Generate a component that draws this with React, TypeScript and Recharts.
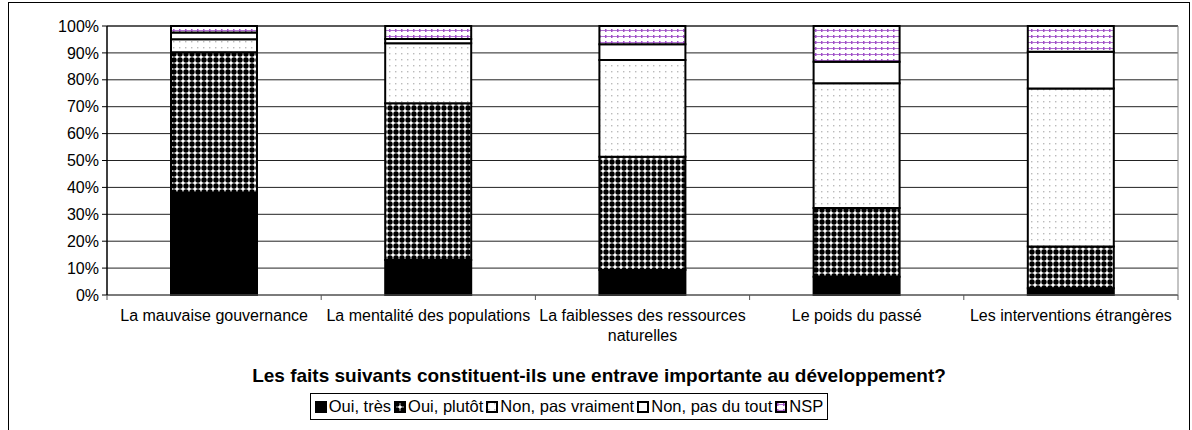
import React from "react";
import { BarChart, Bar, XAxis, YAxis, CartesianGrid, Text } from "recharts";

const categories = [
  "La mauvaise gouvernance",
  "La mentalité des populations",
  "La faiblesses des ressources naturelles",
  "Le poids du passé",
  "Les interventions étrangères",
];
const ouiTres = [38, 13, 9.3, 6.8, 2.5];
const ouiPlutot = [52.2, 58.3, 42.1, 25.5, 15.5];
const nonPasVraiment = [4.9, 22.3, 36, 46.4, 58.8];
const nonPasDuTout = [2.5, 1.6, 5.8, 8, 13.6];
const nsp = [2.4, 4.8, 6.8, 13.3, 9.6];
const yTicks = [0, 10, 20, 30, 40, 50, 60, 70, 80, 90, 100];

const seriesNames = ["Oui, très", "Oui, plutôt", "Non, pas vraiment", "Non, pas du tout", "NSP"];
const fills = ["#000", "url(#dots)", "url(#sparse)", "#fff", "url(#nsp)"];

const data = categories.map((c, i) => ({
  name: c,
  s0: ouiTres[i],
  s1: ouiPlutot[i],
  s2: nonPasVraiment[i],
  s3: nonPasDuTout[i],
  s4: nsp[i],
}));

const FONT = "'Liberation Sans', Arial, sans-serif";
const CHART_W = 1180;
const CHART_H = 345;
const MARGIN = { top: 23, right: 10, left: 38, bottom: 0 };
const Y_W = 60;
const PLOT_W = CHART_W - MARGIN.left - Y_W - MARGIN.right - 1;
const HALF = PLOT_W / categories.length / 2;

const XTick = (props: any) => {
  const { x, y, payload, index } = props;
  const axisY = y - 15;
  return (
    <g>
      <line x1={x - HALF} x2={x - HALF} y1={axisY} y2={axisY + 5} stroke="#555" />
      {index === categories.length - 1 && (
        <line x1={x + HALF} x2={x + HALF} y1={axisY} y2={axisY + 5} stroke="#555" />
      )}
      <Text
        x={x}
        y={y}
        width={214}
        textAnchor="middle"
        verticalAnchor="start"
        fontSize={16}
        fontFamily={FONT}
        fill="#000"
        lineHeight={20}
      >
        {payload.value}
      </Text>
    </g>
  );
};

const LegendIcon = ({ fill }: { fill: string }) => (
  <svg width={12} height={12} style={{ marginRight: 2 }}>
    <rect x={1} y={1} width={10} height={10} fill={fill} stroke="#000" strokeWidth={2} />
  </svg>
);

export default function App() {
  return (
    <div
      style={{
        position: "fixed",
        left: 8,
        top: 2,
        width: 1182,
        height: 440,
        border: "1px solid #000",
        boxSizing: "border-box",
        background: "#fff",
        fontFamily: FONT,
      }}
    >
      <BarChart width={CHART_W} height={CHART_H} data={data} margin={MARGIN} barSize={86}>
        <defs>
          <pattern id="dots" width={6} height={6} patternUnits="userSpaceOnUse">
            <rect width={6} height={6} fill="#fff" />
            <circle cx={3} cy={3} r={2.7} fill="#000" />
          </pattern>
          <pattern id="sparse" width={6} height={6} patternUnits="userSpaceOnUse">
            <rect width={6} height={6} fill="#fff" />
            <rect x={2} y={2} width={1.4} height={1.4} fill="#bbb" />
          </pattern>
          <pattern id="nsp" width={6} height={6} patternUnits="userSpaceOnUse">
            <rect width={6} height={6} fill="#fff" />
            <rect x={0} y={3} width={6} height={1} fill="#b070d0" />
            <rect x={2} y={2} width={1.5} height={3} fill="#a050c8" />
          </pattern>
        </defs>
        <CartesianGrid vertical={false} stroke="#222" />
        <XAxis
          dataKey="name"
          interval={0}
          tickLine={false}
          tickSize={5}
          tickMargin={10}
          axisLine={{ stroke: "#666" }}
          height={CHART_H - MARGIN.top - 269}
          tick={<XTick />}
        />
        <YAxis
          domain={[0, 100]}
          ticks={yTicks}
          interval={0}
          width={Y_W}
          tickFormatter={(v: number) => `${v}%`}
          tick={{ fontSize: 16, fontFamily: FONT, fill: "#000" }}
          tickSize={5}
          tickMargin={3}
          tickLine={{ stroke: "#000" }}
          axisLine={{ stroke: "#000", strokeWidth: 1.5 }}
        />
        <YAxis
          yAxisId="r"
          orientation="right"
          domain={[0, 100]}
          width={1}
          tick={false}
          tickLine={false}
          axisLine={{ stroke: "#888" }}
        />
        {seriesNames.map((n, i) => (
          <Bar
            key={n}
            dataKey={`s${i}`}
            name={n}
            stackId="a"
            fill={fills[i]}
            stroke="#000"
            strokeWidth={2}
            isAnimationActive={false}
          />
        ))}
      </BarChart>
      <div
        style={{
          textAlign: "center",
          fontWeight: "bold",
          fontSize: 19,
          lineHeight: "22px",
          marginTop: 17,
        }}
      >
        Les faits suivants constituent-ils une entrave importante au développement?
      </div>
      <div style={{ textAlign: "center", marginTop: 6, position: "relative", left: -30 }}>
        <div
          style={{
            display: "inline-flex",
            alignItems: "center",
            border: "1px solid #000",
            padding: "2px 4px",
            fontSize: 16.5,
            lineHeight: "21px",
          }}
        >
          {seriesNames.map((n, i) => (
            <span key={n} style={{ display: "inline-flex", alignItems: "center", marginRight: i < 4 ? 3 : 0 }}>
              <LegendIcon fill={fills[i]} />
              {n}
            </span>
          ))}
        </div>
      </div>
    </div>
  );
}
